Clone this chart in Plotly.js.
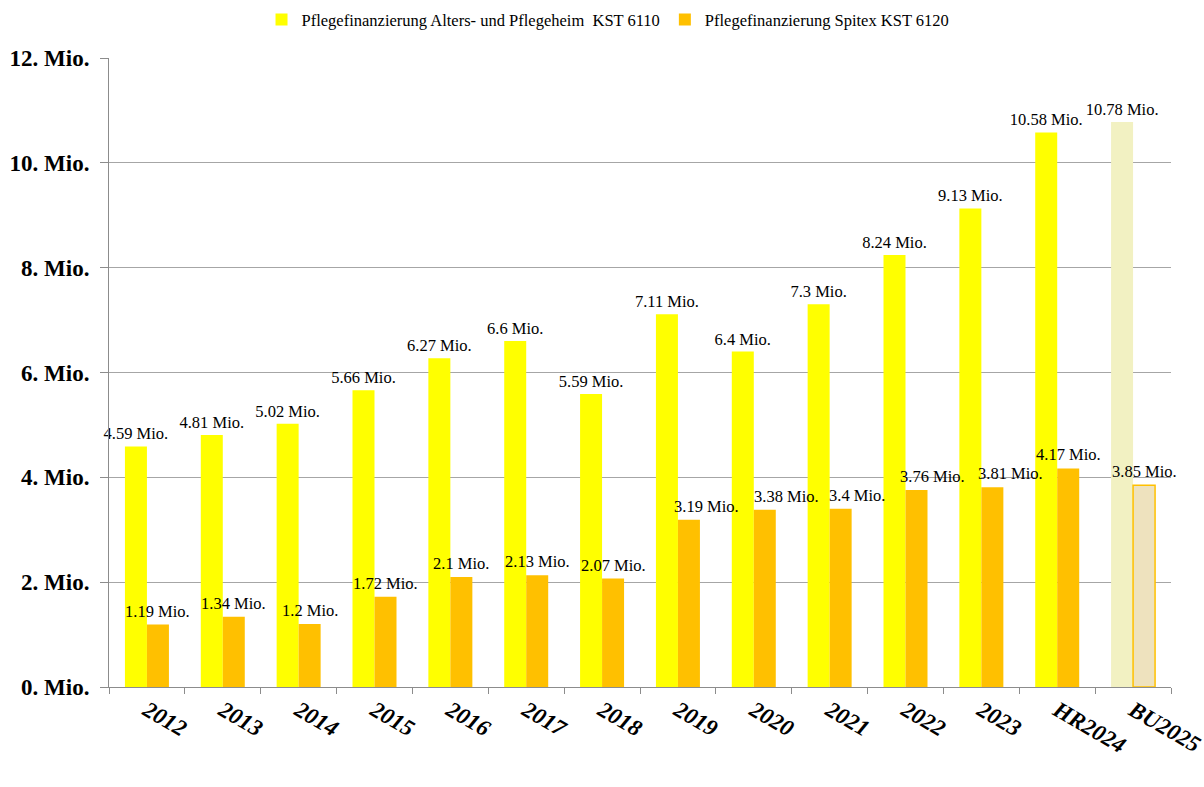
<!DOCTYPE html>
<html><head><meta charset="utf-8">
<script src="https://cdn.plot.ly/plotly-3.0.1.min.js"></script>
<style>html,body{margin:0;padding:0;background:#fff}#chart{width:1204px;height:787px}</style>
</head><body><div id="chart"></div>
<script>
const categories = ['2012','2013','2014','2015','2016','2017','2018','2019','2020','2021','2022','2023','HR2024','BU2025'];
const heimValues = [4.59,4.81,5.02,5.66,6.27,6.6,5.59,7.11,6.4,7.3,8.24,9.13,10.58,10.78];
const spitexValues = [1.19,1.34,1.2,1.72,2.1,2.13,2.07,3.19,3.38,3.4,3.76,3.81,4.17,3.85];
const yTickVals = [0,2,4,6,8,10,12];
const yTickText = ['0. Mio.','2. Mio.','4. Mio.','6. Mio.','8. Mio.','10. Mio.','12. Mio.'];
const seriesNames = ['Pflegefinanzierung Alters- und Pflegeheim  KST 6110','Pflegefinanzierung Spitex KST 6120'];

// styling: horizontal nudge (px) of some Spitex value labels, as in the original
const spitexLabelNudge = [0,0,0,0,0,0,0,18,22,16,16,18,0,0];

const serif = '"Liberation Serif", "Times New Roman", serif';
const last = categories.length - 1;
const heimColors = categories.map((c,i)=> i===last ? '#F2F1C2' : '#FFFF00');
const spitexColors = categories.map((c,i)=> i===last ? '#EEE2BE' : '#FFC000');
const spitexLine = categories.map((c,i)=> i===last ? '#FFC000' : 'rgba(0,0,0,0)');

const W = 1204, H = 787, M = {l:109, r:33, t:58, b:100};
const bargap = 0.42;
const catW = (W - M.l - M.r) / categories.length;
const barOffset = catW * (1 - bargap) / 4;

const traces = [
  {type:'bar', name:seriesNames[0], x:categories, y:heimValues,
   marker:{color:heimColors, line:{width:0}},
   text:heimValues.map(v=>v+' Mio.'), textposition:'outside', constraintext:'none', cliponaxis:false,
   outsidetextfont:{family:serif, size:16.5, color:'#000'},
   textfont:{family:serif, size:16.5, color:'#000'}, hoverinfo:'x+y'},
  {type:'bar', name:seriesNames[1], x:categories, y:spitexValues,
   marker:{color:spitexColors, line:{width:1.5, color:spitexLine}},
   cliponaxis:false, hoverinfo:'x+y'}
];

const annotations = categories.map((c,i)=>({
  xref:'x', yref:'y', x:i, y:spitexValues[i], text:spitexValues[i]+' Mio.',
  showarrow:false, xanchor:'center', yanchor:'bottom',
  xshift: barOffset + spitexLabelNudge[i], yshift:2,
  font:{family:serif, size:16.5, color:'#000'}
}));

const layout = {
  width:W, height:H,
  margin:M,
  paper_bgcolor:'#fff', plot_bgcolor:'#fff',
  barmode:'group', bargap:bargap, bargroupgap:0,
  font:{family:serif, color:'#000'},
  showlegend:true,
  legend:{orientation:'h', x:0.505, xanchor:'center', xref:'container', y:0.997, yanchor:'top', yref:'container',
          font:{family:serif, size:16.5, color:'#000'}, itemwidth:30, tracegroupgap:0},
  annotations:annotations,
  xaxis:{type:'category', range:[-0.5, categories.length-0.5], autorange:false,
         tickson:'boundaries', ticks:'outside', ticklen:6, tickcolor:'#8c8c8c',
         showline:true, linecolor:'#8c8c8c', linewidth:1, showgrid:false, automargin:false,
         tickangle:30, tickfont:{family:serif, size:23, color:'#000', weight:'bold', style:'italic'}},
  yaxis:{range:[0,12], autorange:false, tickvals:yTickVals, ticktext:yTickText, ticks:'outside', ticklen:8, tickcolor:'#8c8c8c',
         showline:true, linecolor:'#8c8c8c', linewidth:1, showgrid:true, gridcolor:'#a6a6a6', gridwidth:1,
         zeroline:false, automargin:false, tickfont:{family:serif, size:23, color:'#000', weight:'bold'}, ticklabelstandoff:6}
};
Plotly.newPlot('chart', traces, layout, {displayModeBar:false, staticPlot:true});
</script></body></html>
